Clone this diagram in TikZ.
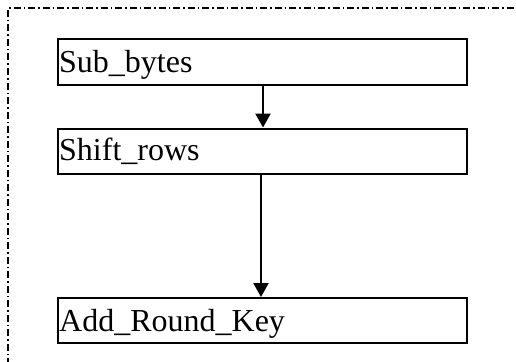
\documentclass[tikz,border=0pt]{standalone}
\usepackage{fontspec}
\setmainfont{Liberation Serif}
\usetikzlibrary{arrows.meta}
\begin{document}
\begin{tikzpicture}[x=1pt,y=-1pt,
  stagebox/.style={draw,line width=2pt,minimum width=409pt,minimum height=45pt,inner sep=0pt},
  stagelabel/.style={anchor=base west,inner sep=0pt,font=\fontsize{32pt}{36pt}\selectfont},
  flow/.style={line width=2.5pt,-{Triangle[length=14pt,width=15pt]}},
  frame/.style={line width=1.8pt,dash pattern=on 7pt off 3pt on 1.5pt off 3pt}]
\useasboundingbox (0,0) rectangle (516,361);
\coordinate (ftop) at (8,8);
\coordinate (fright) at (520,8);
\coordinate (fbottom) at (8,365);
\draw[frame] (fbottom) -- (ftop) -- (fright);
\node[stagebox] (sb) at (262.5,62) {};
\node[stagebox] (sr) at (262.5,151) {};
\node[stagebox] (ark) at (262.5,320.5) {};
\node[stagelabel] at (59,72) {Sub\_bytes};
\node[stagelabel] at (59,160) {Shift\_rows};
\node[stagelabel] at (59,331) {Add\_Round\_Key};
\draw[flow] (sb.south -| 263,0) -- (sr.north -| 263,0);
\draw[flow] (sr.south -| 261,0) -- (ark.north -| 261,0);
\end{tikzpicture}
\end{document}
